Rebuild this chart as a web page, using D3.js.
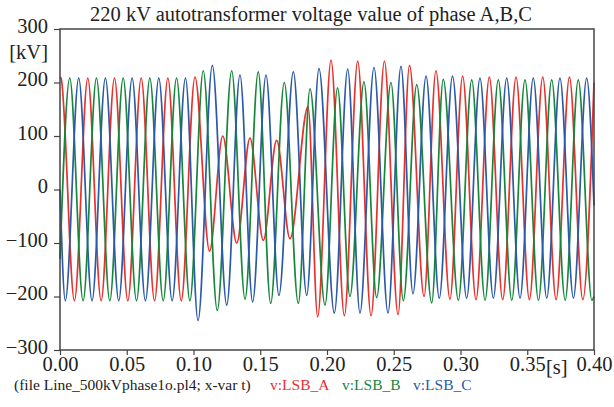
<!DOCTYPE html>
<html>
<head>
<meta charset="utf-8">
<script src="https://cdn.jsdelivr.net/npm/d3@7/dist/d3.min.js"></script>
<style>
  html, body { margin: 0; padding: 0; background: #fff; }
  svg { display: block; }
  text { font-family: "Liberation Serif", "Times New Roman", serif; fill: #222; }
</style>
</head>
<body>
<svg id="chart" width="614" height="407"></svg>
<script>
// ---- data ----
const titleText = "220 kV autotransformer voltage value of phase A,B,C";
const footerText = "(file Line_500kVphase1o.pl4; x-var t)";
const timeTicks = [0.00, 0.05, 0.10, 0.15, 0.20, 0.25, 0.30, 0.35, 0.40];
const voltTicks = [-300, -200, -100, 0, 100, 200, 300];
const seriesNames = ["v:LSB_A", "v:LSB_B", "v:LSB_C"];
const seriesColors = ["#e8302c", "#16873a", "#2a5aa8"];

// [t (s), v (kV)] extrema per phase
const phaseA = [[0,210],[0.0008,208],[0.0108,-208],[0.0208,208],[0.0308,-208],[0.0408,208],[0.0508,-208],[0.0608,208],[0.0708,-208],[0.0808,208],[0.0908,-208],[0.1011,210],
  [0.112,-115],[0.1219,100],[0.1324,-100],[0.1423,96],[0.1523,-95],[0.1623,92],[0.1723,-92],[0.1858,155],[0.193,-238],[0.203,242],[0.213,-236],[0.223,240],[0.233,-236],[0.243,240],[0.2532,-234],[0.2618,232],[0.2727,-200],[0.2816,222],[0.2921,-205],[0.3016,212],[0.3116,-206],[0.3216,210],[0.3316,-206],[0.3416,210],[0.3516,-206],[0.3616,210],[0.3716,-206],[0.3816,210],[0.3916,-206],[0.4,200]];
const phaseB = [[0,-130],[0.0073,208],[0.0173,-208],[0.0273,208],[0.0373,-208],[0.0473,208],[0.0573,-208],[0.0673,208],[0.0773,-208],[0.0873,208],[0.0973,-208],
  [0.1073,222],[0.1178,-226],[0.1286,222],[0.1386,-205],[0.1485,220],[0.1578,-213],[0.168,200],[0.1785,-213],[0.1873,188],[0.1985,-216],[0.2079,190],[0.2172,-200],[0.2277,201],[0.2372,-202],[0.2479,200],[0.2572,-208],[0.2672,196],[0.2784,-212],[0.2871,206],[0.2984,-207],[0.3084,205],[0.3184,-207],[0.3283,205],[0.3384,-207],[0.3483,205],[0.3584,-207],[0.3683,205],[0.3784,-207],[0.3882,205],[0.3984,-207],[0.4,-200]];
const phaseC = [[0,0],[0.004,-208],[0.014,208],[0.024,-208],[0.034,208],[0.044,-208],[0.054,208],[0.064,-208],[0.074,208],[0.084,-208],[0.094,208],
  [0.1034,-245],[0.1141,232],[0.1249,-216],[0.1348,214],[0.1443,-210],[0.1543,214],[0.164,-198],[0.1748,220],[0.1848,-198],[0.194,226],[0.2055,-231],[0.2155,225],[0.2247,-231],[0.2352,228],[0.2457,-231],[0.2554,230],[0.2644,-195],[0.2742,212],[0.2841,-203],[0.294,212],[0.3046,-203],[0.3146,208],[0.3246,-203],[0.3346,208],[0.3446,-203],[0.3545,208],[0.3646,-203],[0.3745,208],[0.3846,-203],[0.3945,208],[0.4,-30]];

// ---- layout ----
const svg = d3.select("#chart");
const mLeft = 60, mRight = 594, mTop = 29, mBottom = 350;
const x = d3.scaleLinear().domain([0, 0.4]).range([mLeft, mRight]);
const y = d3.scaleLinear().domain([-300, 300]).range([mBottom, mTop]);

svg.append("rect").attr("width", 614).attr("height", 407).attr("fill", "#fff");

// series
const line = d3.line().x(d => x(d[0])).y(d => y(d[1])).curve(d3.curveMonotoneX);
const plot = svg.append("g");
[phaseA, phaseB, phaseC].forEach((data, i) => {
  plot.append("path")
    .datum(data)
    .attr("d", line)
    .attr("fill", "none")
    .attr("stroke", seriesColors[i])
    .attr("stroke-width", 1.7)
    .attr("stroke-linejoin", "round");
});

// frame
svg.append("rect")
  .attr("x", mLeft).attr("y", mTop)
  .attr("width", mRight - mLeft).attr("height", mBottom - mTop)
  .attr("fill", "none").attr("stroke", "#444").attr("stroke-width", 1.5);

// axes
const xAxis = svg.append("g")
  .attr("transform", `translate(0,${mBottom})`)
  .call(d3.axisBottom(x).tickValues(timeTicks).tickFormat(d3.format(".2f")).tickSize(5).tickSizeOuter(0));
xAxis.select(".domain").remove();
xAxis.selectAll(".tick line").attr("stroke", "#444").attr("stroke-width", 1.2);
xAxis.selectAll(".tick text")
  .attr("font-size", 20.5).attr("dy", null).attr("y", 21)
  .style("font-family", '"Liberation Serif", serif').attr("fill", "#222");

const yAxis = svg.append("g")
  .attr("transform", `translate(${mLeft},0)`)
  .call(d3.axisLeft(y).tickValues(voltTicks).tickFormat(d3.format("d")).tickSize(6).tickSizeOuter(0));
yAxis.select(".domain").remove();
yAxis.selectAll(".tick line").attr("stroke", "#444").attr("stroke-width", 1.2);
yAxis.selectAll(".tick text")
  .attr("font-size", 20.5).attr("dy", null).attr("x", -12).attr("y", 3)
  .style("font-family", '"Liberation Serif", serif').attr("fill", "#222");

// title and unit labels
svg.append("text").attr("x", 311).attr("y", 21).attr("text-anchor", "middle")
  .attr("font-size", 20.5).text(titleText);
svg.append("text").attr("x", 48).attr("y", 59).attr("text-anchor", "end")
  .attr("font-size", 20.5).text("[kV]");
svg.append("text").attr("x", 546).attr("y", 374)
  .attr("font-size", 20.5).text("[s]");

// footer legend
svg.append("text").attr("x", 14).attr("y", 390).attr("font-size", 15.5).text(footerText);
const legendX = [270, 342, 413];
seriesNames.forEach((n, i) => {
  svg.append("text").attr("x", legendX[i]).attr("y", 390).attr("font-size", 15.5)
    .attr("fill", seriesColors[i]).style("fill", seriesColors[i]).text(n);
});
</script>
</body>
</html>
